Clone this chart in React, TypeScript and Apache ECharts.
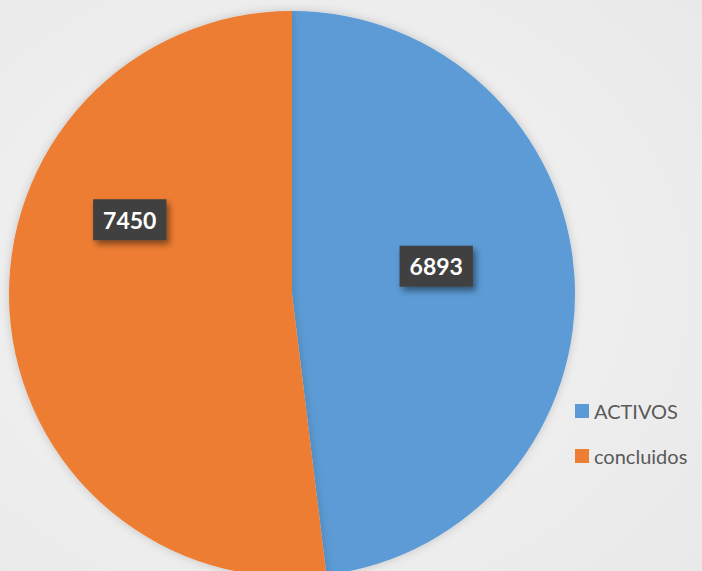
import React, { useEffect, useRef } from "react";
import * as echarts from "echarts";

const categories = ["ACTIVOS", "concluidos"];
const values = [6893, 7450];
const colors = ["#5B9BD5", "#ED7D31"];
const labelOffsets = [[0, -19], [-18, -83]];

export default function App() {
  const ref = useRef<HTMLDivElement>(null);
  useEffect(() => {
    document.body.style.margin = "0";
    const chart = echarts.init(ref.current!, null, { renderer: "svg" });
    chart.setOption({
      animation: false,
      backgroundColor: {
        type: "radial",
        x: 0.42,
        y: 0.5,
        r: 0.75,
        colorStops: [
          { offset: 0, color: "#f5f5f5" },
          { offset: 1, color: "#e9e9e9" },
        ],
      },
      legend: {
        orient: "vertical",
        left: 570,
        top: 396,
        icon: "rect",
        itemWidth: 14,
        itemHeight: 14,
        itemGap: 25,
        itemTextGap: 7,
        textStyle: { fontFamily: "Lato", fontSize: 20, color: "#595959" },
        data: categories,
      },
      series: [
        {
          type: "pie",
          center: [292, 294],
          radius: 283,
          startAngle: 90,
          clockwise: true,
          label: {
            show: true,
            position: "inside",
            formatter: "{c}",
            fontFamily: "Lato",
            fontWeight: "bold",
            fontSize: 23,
            color: "#ffffff",
            backgroundColor: "#404040",
            padding: [10, 10, 8, 10],
            shadowColor: "rgba(0,0,0,0.45)",
            shadowBlur: 6,
            shadowOffsetX: 3,
            shadowOffsetY: 4,
          },
          labelLine: { show: false },
          itemStyle: {
            shadowColor: "rgba(0,0,0,0.18)",
            shadowBlur: 10,
          },
          emphasis: { disabled: true },
          data: categories.map((name, i) => ({
            name,
            value: values[i],
            itemStyle: { color: colors[i] },
            label: { offset: labelOffsets[i] },
          })),
        },
      ],
    });
    return () => chart.dispose();
  }, []);
  return (
    <div
      ref={ref}
      style={{ position: "absolute", left: 0, top: 0, width: 702, height: 571 }}
    />
  );
}
